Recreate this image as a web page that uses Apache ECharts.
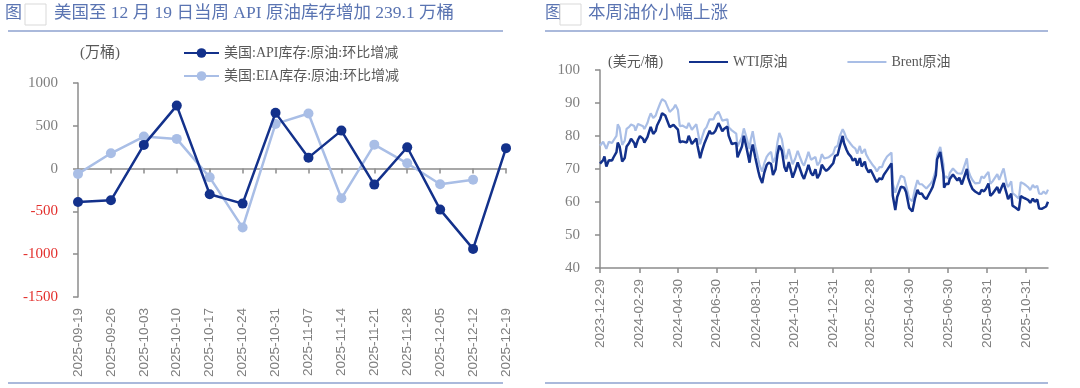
<!DOCTYPE html>
<html><head><meta charset="utf-8">
<script src="https://cdn.jsdelivr.net/npm/echarts@6/dist/echarts.min.js"></script>
<style>html,body{margin:0;padding:0;background:#fff;}#c{width:1080px;height:388px;}</style>
</head><body><div id="c"></div>
<script>
// ---- Left chart data ----
const weeks = ['2025-09-19','2025-09-26','2025-10-03','2025-10-10','2025-10-17','2025-10-24','2025-10-31','2025-11-07','2025-11-14','2025-11-21','2025-11-28','2025-12-05','2025-12-12','2025-12-19'];
const apiChange = [-390,-370,277,736,-300,-409,651,128,444,-187,249,-479,-938,239.1];
const eiaChange = [-62,179,374,347,-102,-689,522,643,-347,280,62,-183,-129,null];

// ---- Right chart data ----
const priceDates = ['2023-12-29','2024-01-03','2024-01-05','2024-01-08','2024-01-12','2024-01-17','2024-01-19','2024-01-24','2024-01-26','2024-01-29','2024-02-02','2024-02-06','2024-02-09','2024-02-13','2024-02-16','2024-02-21','2024-02-23','2024-02-27','2024-03-01','2024-03-06','2024-03-08','2024-03-13','2024-03-15','2024-03-18','2024-03-22','2024-03-26','2024-03-28','2024-04-02','2024-04-05','2024-04-10','2024-04-12','2024-04-17','2024-04-19','2024-04-23','2024-04-26','2024-04-30','2024-05-03','2024-05-07','2024-05-10','2024-05-14','2024-05-17','2024-05-22','2024-05-24','2024-05-29','2024-05-31','2024-06-04','2024-06-07','2024-06-11','2024-06-14','2024-06-19','2024-06-21','2024-06-25','2024-06-28','2024-07-03','2024-07-05','2024-07-09','2024-07-12','2024-07-17','2024-07-19','2024-07-24','2024-07-26','2024-07-31','2024-08-02','2024-08-05','2024-08-09','2024-08-12','2024-08-16','2024-08-21','2024-08-23','2024-08-26','2024-08-30','2024-09-04','2024-09-06','2024-09-10','2024-09-13','2024-09-17','2024-09-20','2024-09-24','2024-09-27','2024-10-01','2024-10-04','2024-10-07','2024-10-11','2024-10-15','2024-10-18','2024-10-22','2024-10-25','2024-10-28','2024-11-01','2024-11-05','2024-11-08','2024-11-12','2024-11-15','2024-11-19','2024-11-22','2024-11-26','2024-11-29','2024-12-03','2024-12-06','2024-12-10','2024-12-13','2024-12-17','2024-12-20','2024-12-24','2024-12-27','2024-12-31','2025-01-03','2025-01-07','2025-01-10','2025-01-15','2025-01-17','2025-01-21','2025-01-24','2025-01-28','2025-01-31','2025-02-04','2025-02-07','2025-02-11','2025-02-14','2025-02-19','2025-02-21','2025-02-25','2025-02-28','2025-03-04','2025-03-07','2025-03-10','2025-03-14','2025-03-18','2025-03-21','2025-03-26','2025-03-28','2025-04-02','2025-04-04','2025-04-08','2025-04-11','2025-04-14','2025-04-17','2025-04-22','2025-04-25','2025-04-30','2025-05-02','2025-05-05','2025-05-09','2025-05-13','2025-05-16','2025-05-20','2025-05-23','2025-05-27','2025-05-30','2025-06-03','2025-06-06','2025-06-11','2025-06-13','2025-06-18','2025-06-20','2025-06-23','2025-06-24','2025-06-27','2025-07-01','2025-07-03','2025-07-08','2025-07-11','2025-07-15','2025-07-18','2025-07-22','2025-07-25','2025-07-30','2025-08-01','2025-08-05','2025-08-08','2025-08-12','2025-08-15','2025-08-19','2025-08-22','2025-08-26','2025-08-29','2025-09-02','2025-09-05','2025-09-09','2025-09-12','2025-09-16','2025-09-19','2025-09-24','2025-09-26','2025-10-01','2025-10-03','2025-10-08','2025-10-10','2025-10-15','2025-10-20','2025-10-23','2025-10-27','2025-10-31','2025-11-04','2025-11-07','2025-11-11','2025-11-14','2025-11-18','2025-11-21','2025-11-25','2025-11-28','2025-12-02','2025-12-05'];
const wti = [71.65,72.70,73.81,70.77,72.68,72.56,73.41,75.09,78.01,76.78,72.28,73.31,76.84,77.87,79.19,77.91,76.49,78.87,79.97,79.13,78.01,79.72,81.04,82.72,80.63,81.62,83.17,85.15,86.91,86.21,85.66,82.69,83.14,83.36,83.85,81.93,78.11,78.38,78.26,78.02,80.06,77.57,77.72,79.23,76.99,73.25,75.53,77.90,78.45,81.57,80.73,80.83,81.54,83.88,83.16,81.41,82.21,82.85,80.13,77.59,77.16,77.91,73.52,72.94,76.84,80.06,76.65,71.93,74.83,77.42,73.55,69.20,67.67,65.75,68.65,71.19,71.92,71.56,68.18,69.83,74.38,77.14,75.56,70.58,69.22,72.09,71.78,67.38,69.49,71.99,70.38,68.12,67.02,69.39,71.24,68.77,68.00,69.94,67.20,68.59,71.29,70.08,69.46,70.10,70.60,71.72,73.96,74.25,76.57,80.04,77.88,75.83,74.66,73.77,72.53,73.16,71.00,73.32,70.74,72.25,70.40,68.93,69.76,68.26,67.04,66.03,67.18,66.90,68.28,69.65,69.36,71.71,61.99,57.58,61.50,61.53,64.68,64.31,63.02,58.21,58.29,57.13,61.02,63.67,62.49,62.56,61.53,60.89,60.79,63.41,64.58,68.15,72.98,75.14,74.93,68.51,64.37,65.52,65.45,67.00,68.33,68.45,66.52,67.34,65.31,65.16,70.00,67.33,65.16,63.88,63.17,62.80,62.35,63.66,63.25,64.01,65.59,61.87,62.63,62.69,64.52,62.68,64.99,65.72,62.37,60.88,62.55,58.90,58.27,57.52,61.79,61.31,60.98,60.56,59.75,61.04,60.09,60.74,58.06,57.95,58.55,58.64,60.08];
const brent = [77.04,78.25,78.76,76.12,78.29,77.88,78.56,80.04,83.55,82.40,77.33,78.59,82.19,82.77,83.47,83.03,81.62,83.65,83.55,82.96,82.08,84.03,85.34,86.89,85.43,86.25,87.48,89.92,91.17,90.48,90.45,87.29,87.29,88.42,89.50,87.86,82.96,83.16,82.79,82.38,83.98,81.90,82.12,83.60,81.62,77.52,79.62,81.92,82.62,85.07,85.24,85.01,86.41,87.34,86.54,84.66,85.03,85.08,82.63,81.71,81.13,80.72,76.81,76.30,79.66,82.30,79.68,76.05,79.02,81.43,76.93,72.70,71.06,69.19,71.61,73.70,74.49,75.17,71.98,73.56,78.05,80.93,79.04,74.25,73.06,76.04,76.05,71.42,73.10,75.53,73.87,71.89,71.04,73.31,75.17,72.81,72.94,73.62,71.12,72.19,74.49,73.19,72.94,73.58,74.17,74.64,76.51,77.05,79.76,82.03,81.29,79.29,78.50,77.49,76.76,76.20,74.66,77.00,74.74,76.04,74.43,73.02,73.18,71.04,70.36,69.28,70.58,70.56,72.16,73.79,73.63,74.95,65.58,62.82,64.76,64.88,67.96,67.44,66.87,61.06,61.29,60.23,63.91,66.63,65.41,65.38,64.78,64.09,63.90,65.63,66.47,69.77,74.23,76.70,77.01,71.48,67.14,67.77,67.11,68.80,70.15,70.36,68.71,69.28,68.59,68.44,73.24,69.67,67.64,66.59,65.63,65.85,65.79,67.73,67.22,68.12,69.14,65.50,66.39,66.99,68.47,66.68,69.31,70.13,65.35,64.53,66.25,62.73,61.91,61.01,65.99,65.62,65.07,64.44,63.63,65.16,64.39,64.89,62.56,62.48,63.20,62.45,63.75];
const rightTickDates = ['2023-12-29','2024-02-29','2024-04-30','2024-06-30','2024-08-31','2024-10-31','2024-12-31','2025-02-28','2025-04-30','2025-06-30','2025-08-31','2025-10-31'];

const DARK = '#13318b', LIGHT = '#a9bee6';
const AXIS = '#8c8c8c', LBL = '#7f7f7f';
const SERIF = '"Liberation Serif","Noto Sans CJK SC",serif';
const TITLE_C = '#5a74b2', RULE_C = '#8ea2cf';

// calendar-day category axis covering the date range
function fmt(d){ const m = d.getUTCMonth()+1, day = d.getUTCDate();
  return d.getUTCFullYear() + '-' + (m<10?'0':'') + m + '-' + (day<10?'0':'') + day; }
function parse(s){ const p = s.split('-'); return new Date(Date.UTC(+p[0], +p[1]-1, +p[2])); }
const calendar = [];
for (let d = parse(priceDates[0]); d <= parse(priceDates[priceDates.length-1]); d = new Date(d.getTime() + 86400000)) calendar.push(fmt(d));
const tickSet = new Set(rightTickDates);
const wtiMap = {}, brentMap = {};
priceDates.forEach((d,i) => { wtiMap[d] = wti[i]; brentMap[d] = brent[i]; });
const wtiSeries = calendar.map(d => (d in wtiMap ? wtiMap[d] : null));
const brentSeries = calendar.map(d => (d in brentMap ? brentMap[d] : null));
const showTick = (idx, val) => tickSet.has(val);

const chart = echarts.init(document.getElementById('c'), null, {renderer:'canvas'});
const option = {
  animation: false,
  backgroundColor: '#fff',
  grid: [
    {left: 78, top: 83, width: 428, height: 214},
    {left: 600, top: 70, width: 448, height: 198}
  ],
  legend: [
    {orient: 'vertical', left: 178, top: 41, itemWidth: 35, itemHeight: 12, itemGap: 9,
     data: ['美国:API库存:原油:环比增减','美国:EIA库存:原油:环比增减'],
     textStyle: {fontFamily: SERIF, fontSize: 14, color: '#595959'}},
    {orient: 'horizontal', left: 684, top: 50, itemWidth: 39, itemHeight: 2, itemGap: 60,
     data: [{name: 'WTI原油', icon: 'rect'}, {name: 'Brent原油', icon: 'rect'}],
     textStyle: {fontFamily: SERIF, fontSize: 14, color: '#595959'}}
  ],
  xAxis: [
    {gridIndex: 0, type: 'category', data: weeks, boundaryGap: false, position: 'bottom',
     axisLine: {show: false, onZero: false}, axisTick: {show: false},
     axisLabel: {rotate: 90, margin: 11, color: LBL, fontFamily: '"Liberation Sans",sans-serif', fontSize: 13.5, interval: 0}},
    {gridIndex: 0, type: 'category', data: weeks, boundaryGap: false, position: 'bottom',
     axisLine: {show: true, onZero: true, lineStyle: {color: AXIS, width: 1.5}},
     axisTick: {show: true, length: 5, interval: 0, lineStyle: {color: AXIS, width: 1.5}},
     axisLabel: {show: false}},
    {gridIndex: 1, type: 'category', data: calendar, boundaryGap: false,
     axisLine: {show: true, onZero: false, lineStyle: {color: AXIS, width: 1.5}},
     axisTick: {show: true, length: 5, interval: showTick, lineStyle: {color: AXIS, width: 1.5}},
     axisLabel: {rotate: 90, margin: 11, color: LBL, fontFamily: '"Liberation Sans",sans-serif', fontSize: 13.5, interval: showTick},
     splitLine: {show: false}}
  ],
  yAxis: [
    {gridIndex: 0, type: 'value', min: -1500, max: 1000, interval: 500,
     axisLine: {show: true, lineStyle: {color: AXIS, width: 1.5}},
     axisTick: {show: true, length: 5, lineStyle: {color: AXIS, width: 1.5}},
     axisLabel: {margin: 20, fontFamily: SERIF, fontSize: 15, formatter: v => String(v),
       color: v => (Number(v) < 0 ? '#e3302d' : LBL)},
     splitLine: {show: false}},
    {gridIndex: 1, type: 'value', min: 40, max: 100, interval: 10,
     axisLine: {show: true, lineStyle: {color: AXIS, width: 1.5}},
     axisTick: {show: true, length: 5, lineStyle: {color: AXIS, width: 1.5}},
     axisLabel: {margin: 20, fontFamily: SERIF, fontSize: 15, color: LBL, formatter: v => String(v)},
     splitLine: {show: false}}
  ],
  series: [
    {name: '美国:API库存:原油:环比增减', type: 'line', xAxisIndex: 0, yAxisIndex: 0, data: apiChange,
     symbol: 'circle', symbolSize: 10, color: DARK, lineStyle: {width: 2.5, color: DARK}, itemStyle: {color: DARK}, z: 3},
    {name: '美国:EIA库存:原油:环比增减', type: 'line', xAxisIndex: 0, yAxisIndex: 0, data: eiaChange,
     symbol: 'circle', symbolSize: 10, color: LIGHT, lineStyle: {width: 2.5, color: LIGHT}, itemStyle: {color: LIGHT}, z: 2},
    {name: 'Brent原油', type: 'line', xAxisIndex: 2, yAxisIndex: 1, showSymbol: false, symbol: 'none', connectNulls: true,
     data: brentSeries, color: LIGHT, lineStyle: {width: 2.2, color: LIGHT}, z: 2},
    {name: 'WTI原油', type: 'line', xAxisIndex: 2, yAxisIndex: 1, showSymbol: false, symbol: 'none', connectNulls: true,
     data: wtiSeries, color: DARK, lineStyle: {width: 2.5, color: DARK}, z: 3}
  ],
  graphic: [
    {type: 'text', left: 5, top: 5, style: {text: '图', font: '17px ' + SERIF, fill: TITLE_C}},
    {type: 'rect', shape: {x: 25, y: 4, width: 21, height: 21}, style: {fill: '#fff', stroke: '#d9d9d9', lineWidth: 1}},
    {type: 'text', left: 54, top: 5, style: {text: '美国至 12 月 19 日当周 API 原油库存增加 239.1 万桶', font: '17.5px ' + SERIF, fill: TITLE_C}},
    {type: 'line', shape: {x1: 8, y1: 31, x2: 503, y2: 31}, style: {stroke: RULE_C, lineWidth: 1.5}},
    {type: 'line', shape: {x1: 8, y1: 383, x2: 503, y2: 383}, style: {stroke: RULE_C, lineWidth: 1.5}},
    {type: 'text', left: 80, top: 46, style: {text: '(万桶)', font: '15px ' + SERIF, fill: '#595959'}},

    {type: 'text', left: 545, top: 5, style: {text: '图', font: '17px ' + SERIF, fill: TITLE_C}},
    {type: 'rect', shape: {x: 560, y: 4, width: 21, height: 21}, style: {fill: '#fff', stroke: '#d9d9d9', lineWidth: 1}},
    {type: 'text', left: 588, top: 5, style: {text: '本周油价小幅上涨', font: '17.5px ' + SERIF, fill: TITLE_C}},
    {type: 'line', shape: {x1: 545, y1: 31, x2: 1048, y2: 31}, style: {stroke: RULE_C, lineWidth: 1.5}},
    {type: 'line', shape: {x1: 545, y1: 383, x2: 1048, y2: 383}, style: {stroke: RULE_C, lineWidth: 1.5}},
    {type: 'text', left: 608, top: 55, style: {text: '(美元/桶)', font: '14px ' + SERIF, fill: '#595959'}}
  ]
};
chart.setOption(option);
</script></body></html>
